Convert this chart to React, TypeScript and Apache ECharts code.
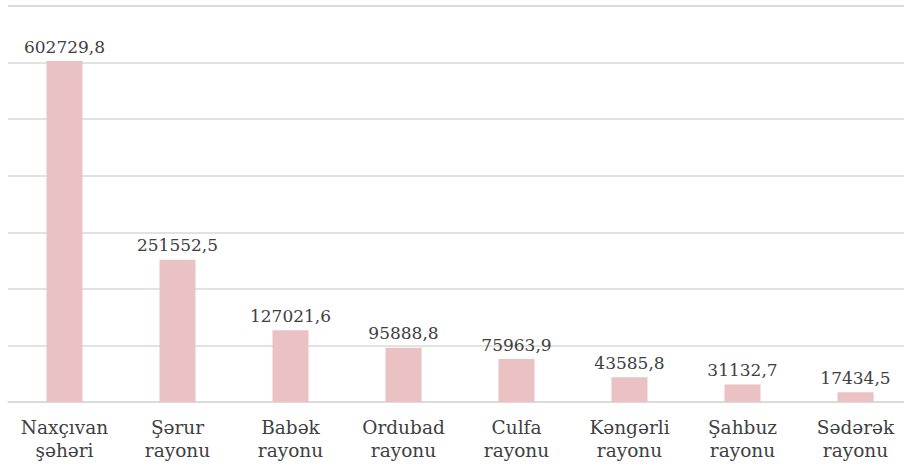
import React, { useEffect, useRef } from "react";
import * as echarts from "echarts";

const categories = [
  "Naxçıvan\nşəhəri",
  "Şərur\nrayonu",
  "Babək\nrayonu",
  "Ordubad\nrayonu",
  "Culfa\nrayonu",
  "Kəngərli\nrayonu",
  "Şahbuz\nrayonu",
  "Sədərək\nrayonu",
];
const values = [602729.8, 251552.5, 127021.6, 95888.8, 75963.9, 43585.8, 31132.7, 17434.5];
const axisMax = 700000;
const axisStep = 100000;

export default function App() {
  const ref = useRef<HTMLDivElement>(null);
  useEffect(() => {
    document.body.style.margin = "0";
    if (!ref.current) return;
    const chart = echarts.init(ref.current, null, { renderer: "svg" });
    chart.setOption({
      animation: false,
      backgroundColor: "#ffffff",
      grid: { left: 8, top: 6, right: -8, bottom: 62, containLabel: false, outerBoundsMode: "none" },
      xAxis: {
        type: "category",
        data: categories,
        axisLine: { show: true, lineStyle: { color: "#d9d9d9", width: 1.5 } },
        axisTick: { show: false },
        axisLabel: {
          interval: 0,
          margin: 14,
          color: "#404040",
          fontFamily: "DejaVu Serif",
          fontSize: 18.5,
          lineHeight: 23,
        },
      },
      yAxis: {
        type: "value",
        min: 0,
        max: axisMax,
        interval: axisStep,
        axisLabel: { show: false },
        axisLine: { show: false },
        axisTick: { show: false },
        splitLine: { show: true, showMinLine: true, showMaxLine: true, lineStyle: { color: "#d9d9d9", width: 1.5 } },
      },
      series: [
        {
          type: "bar",
          data: values,
          barWidth: 36,
          itemStyle: { color: "#eac2c3" },
          label: {
            show: true,
            position: "top",
            distance: 6,
            color: "#404040",
            fontFamily: "DejaVu Serif",
            fontSize: 17,
            formatter: (p: any) => String(p.value.toFixed(1)).replace(".", ","),
          },
          markLine: {
            silent: true,
            symbol: "none",
            label: { show: false },
            lineStyle: { color: "#d9d9d9", width: 1.5, type: "solid" },
            emphasis: { disabled: true },
            data: [{ yAxis: axisMax }],
          },
        },
      ],
    });
    return () => chart.dispose();
  }, []);
  return <div ref={ref} style={{ width: 904, height: 464 }} />;
}
